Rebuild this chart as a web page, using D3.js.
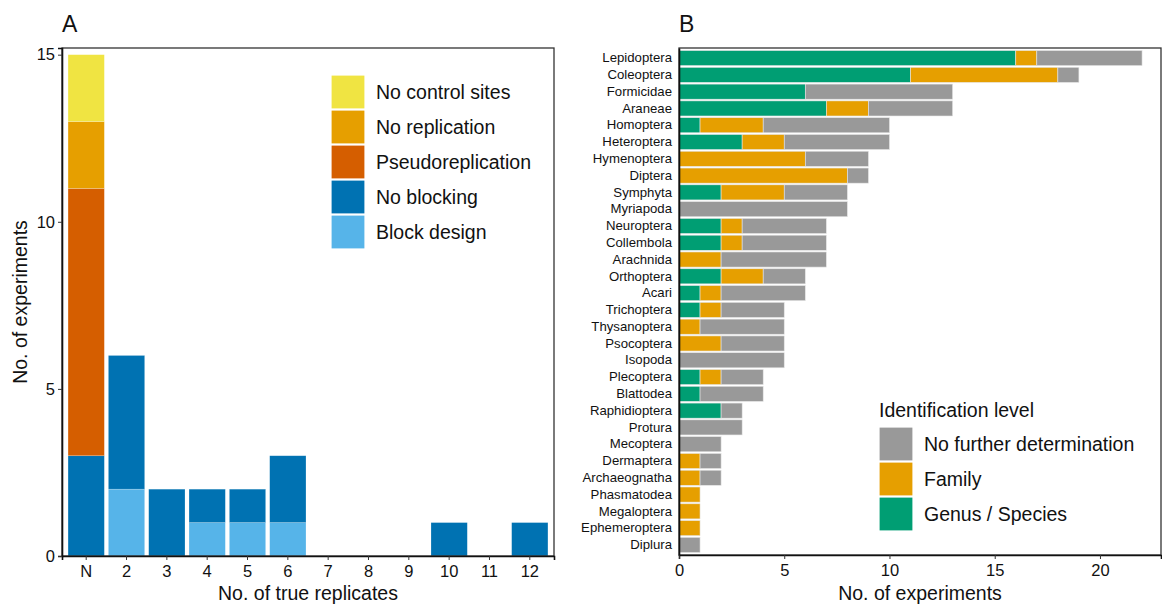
<!DOCTYPE html>
<html>
<head>
<meta charset="utf-8">
<script src="https://cdn.jsdelivr.net/npm/d3@7"></script>
<style>
  body { margin: 0; background: #fff; }
  svg text { font-family: "Liberation Sans", Arial, sans-serif; fill: #111; }
</style>
</head>
<body>
<svg id="fig" width="1162" height="606"></svg>
<script>
// panel A data
const replicates = ["N", "2", "3", "4", "5", "6", "7", "8", "9", "10", "11", "12"];
const blockDesign = [0, 2, 0, 1, 1, 1, 0, 0, 0, 0, 0, 0];
const noBlocking = [3, 4, 2, 1, 1, 2, 0, 0, 0, 1, 0, 1];
const pseudoRep = [8, 0, 0, 0, 0, 0, 0, 0, 0, 0, 0, 0];
const noReplication = [2, 0, 0, 0, 0, 0, 0, 0, 0, 0, 0, 0];
const noControl = [2, 0, 0, 0, 0, 0, 0, 0, 0, 0, 0, 0];
const yTicksA = [0, 5, 10, 15];

// panel B data
const orders = ["Lepidoptera", "Coleoptera", "Formicidae", "Araneae", "Homoptera", "Heteroptera",
  "Hymenoptera", "Diptera", "Symphyta", "Myriapoda", "Neuroptera", "Collembola", "Arachnida",
  "Orthoptera", "Acari", "Trichoptera", "Thysanoptera", "Psocoptera", "Isopoda", "Plecoptera",
  "Blattodea", "Raphidioptera", "Protura", "Mecoptera", "Dermaptera", "Archaeognatha",
  "Phasmatodea", "Megaloptera", "Ephemeroptera", "Diplura"];
const genusSpecies = [16, 11, 6, 7, 1, 3, 0, 0, 2, 0, 2, 2, 0, 2, 1, 1, 0, 0, 0, 1, 1, 2, 0, 0, 0, 0, 0, 0, 0, 0];
const family =       [1, 7, 0, 2, 3, 2, 6, 8, 3, 0, 1, 1, 2, 2, 1, 1, 1, 2, 0, 1, 0, 0, 0, 0, 1, 1, 1, 1, 1, 0];
const noFurther =    [5, 1, 7, 4, 6, 5, 3, 1, 3, 8, 4, 4, 5, 2, 4, 3, 4, 3, 5, 2, 3, 1, 3, 2, 1, 1, 0, 0, 0, 1];
const xTicksB = [0, 5, 10, 15, 20];

const svg = d3.select("#fig");

// ---------- panel A ----------
const keysA = ["block", "noblock", "pseudo", "norep", "nocontrol"];
const labelsA = {nocontrol: "No control sites", norep: "No replication", pseudo: "Pseudoreplication",
  noblock: "No blocking", block: "Block design"};
const colorA = d3.scaleOrdinal()
  .domain(keysA)
  .range(["#56B4E9", "#0072B2", "#D55E00", "#E69F00", "#F0E442"]);

const tableA = replicates.map((r, i) => ({
  rep: r, block: blockDesign[i], noblock: noBlocking[i], pseudo: pseudoRep[i],
  norep: noReplication[i], nocontrol: noControl[i]
}));

const xA = d3.scaleBand().domain(replicates).range([62, 554]).paddingInner(0.1).paddingOuter(0.15);
const yA = d3.scaleLinear().domain([0, 15.2]).range([556, 48]);

const stackA = d3.stack().keys(keysA)(tableA);

svg.append("g").selectAll("g")
  .data(stackA)
  .join("g")
  .attr("fill", d => colorA(d.key))
  .selectAll("rect")
  .data(d => d.filter(s => s[1] > s[0]))
  .join("rect")
  .attr("x", d => xA(d.data.rep))
  .attr("width", xA.bandwidth())
  .attr("y", d => yA(d[1]))
  .attr("height", d => yA(d[0]) - yA(d[1]))
  .attr("stroke", "#fff")
  .attr("stroke-opacity", 0.35)
  .attr("stroke-width", 0.6);

svg.append("rect")
  .attr("x", 62).attr("y", 48).attr("width", 492).attr("height", 508)
  .attr("fill", "none").attr("stroke", "#333").attr("stroke-width", 1.3);

const axA = svg.append("g")
  .attr("transform", "translate(0,556)")
  .call(d3.axisBottom(xA).tickSize(4).tickPadding(5));
axA.select(".domain").attr("stroke", "#111").attr("stroke-width", 1.6);
axA.selectAll(".tick line").attr("stroke", "#333");
axA.selectAll(".tick text").attr("font-size", 16.5).attr("fill", "#111");

const ayA = svg.append("g")
  .attr("transform", "translate(62,0)")
  .call(d3.axisLeft(yA).tickValues(yTicksA).tickSize(4).tickPadding(3));
ayA.select(".domain").attr("stroke", "#111").attr("stroke-width", 1.6);
ayA.selectAll(".tick line").attr("stroke", "#333");
ayA.selectAll(".tick text").attr("font-size", 16.5).attr("fill", "#111");

svg.append("text").attr("x", 308).attr("y", 600).attr("text-anchor", "middle")
  .attr("font-size", 19.5).text("No. of true replicates");
svg.append("text").attr("transform", "translate(27,302) rotate(-90)").attr("text-anchor", "middle")
  .attr("font-size", 19.5).text("No. of experiments");
svg.append("text").attr("x", 62).attr("y", 32).attr("font-size", 23).text("A");

const legA = svg.append("g").attr("transform", "translate(331,75)");
const legAItems = legA.selectAll("g")
  .data(keysA.slice().reverse())
  .join("g")
  .attr("transform", (d, i) => `translate(0,${i * 35})`);
legAItems.append("rect")
  .attr("width", 34).attr("height", 34)
  .attr("fill", d => colorA(d))
  .attr("stroke", "#fff").attr("stroke-width", 1.2);
legAItems.append("text")
  .attr("x", 45).attr("y", 17).attr("dy", "0.36em")
  .attr("font-size", 19.5)
  .text(d => labelsA[d]);

// ---------- panel B ----------
const keysB = ["genus", "family", "none"];
const labelsB = {none: "No further determination", family: "Family", genus: "Genus / Species"};
const colorB = d3.scaleOrdinal().domain(keysB).range(["#009E73", "#E69F00", "#999999"]);

const tableB = orders.map((o, i) => ({
  order: o, genus: genusSpecies[i], family: family[i], none: noFurther[i]
}));

const yB = d3.scaleBand().domain(orders).range([48, 555]).paddingInner(0.1).paddingOuter(0.15);
const xB = d3.scaleLinear().domain([0, 22.9]).range([679, 1161]);

const stackB = d3.stack().keys(keysB)(tableB);

svg.append("g").selectAll("g")
  .data(stackB)
  .join("g")
  .attr("fill", d => colorB(d.key))
  .selectAll("rect")
  .data(d => d.filter(s => s[1] > s[0]))
  .join("rect")
  .attr("y", d => yB(d.data.order))
  .attr("height", yB.bandwidth())
  .attr("x", d => xB(d[0]))
  .attr("width", d => xB(d[1]) - xB(d[0]))
  .attr("stroke", "#e6e6e6")
  .attr("stroke-width", 0.6);

svg.append("rect")
  .attr("x", 679).attr("y", 48).attr("width", 482).attr("height", 507)
  .attr("fill", "none").attr("stroke", "#333").attr("stroke-width", 1.3);

const axB = svg.append("g")
  .attr("transform", "translate(0,555)")
  .call(d3.axisBottom(xB).tickValues(xTicksB).tickSize(4).tickPadding(5));
axB.select(".domain").attr("stroke", "#111").attr("stroke-width", 1.6);
axB.selectAll(".tick line").attr("stroke", "#333");
axB.selectAll(".tick text").attr("font-size", 16.5).attr("fill", "#111");

const ayB = svg.append("g")
  .attr("transform", "translate(679,0)")
  .call(d3.axisLeft(yB).tickSize(0).tickPadding(7));
ayB.select(".domain").attr("stroke", "#111").attr("stroke-width", 1.6);
ayB.selectAll(".tick text").attr("font-size", 13.2).attr("fill", "#111");

svg.append("text").attr("x", 920).attr("y", 600).attr("text-anchor", "middle")
  .attr("font-size", 19.5).text("No. of experiments");
svg.append("text").attr("x", 679).attr("y", 32).attr("font-size", 23).text("B");

const legB = svg.append("g").attr("transform", "translate(879,427)");
legB.append("text").attr("x", 0).attr("y", -10).attr("font-size", 19.5).text("Identification level");
const legBItems = legB.selectAll("g")
  .data(keysB.slice().reverse())
  .join("g")
  .attr("transform", (d, i) => `translate(0,${i * 35})`);
legBItems.append("rect")
  .attr("width", 34).attr("height", 34)
  .attr("fill", d => colorB(d))
  .attr("stroke", "#fff").attr("stroke-width", 1.2);
legBItems.append("text")
  .attr("x", 45).attr("y", 17).attr("dy", "0.36em")
  .attr("font-size", 19.5)
  .text(d => labelsB[d]);
</script>
</body>
</html>
